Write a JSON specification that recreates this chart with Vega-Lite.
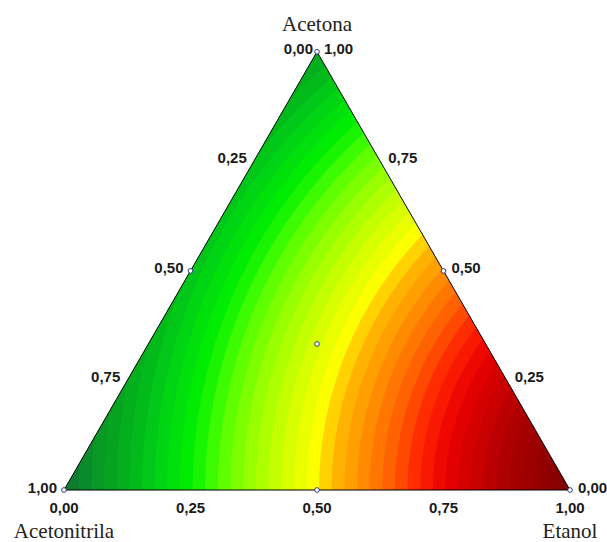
{
  "$schema": "https://vega.github.io/schema/vega-lite/v6.json",
  "width": 607,
  "height": 542,
  "padding": 0,
  "autosize": "none",
  "background": "white",
  "config": {"view": {"stroke": null}},
  "datasets": {
    "bands": [
      {"X":1.229,"Y":0,"r":1.25,"v":1.2375},{"X":1.229,"Y":0,"r":1.225,"v":1.2125},{"X":1.229,"Y":0,"r":1.2,"v":1.1875},{"X":1.229,"Y":0,"r":1.175,"v":1.1625},{"X":1.229,"Y":0,"r":1.15,"v":1.1375},
      {"X":1.229,"Y":0,"r":1.125,"v":1.1125},{"X":1.229,"Y":0,"r":1.1,"v":1.0875},{"X":1.229,"Y":0,"r":1.075,"v":1.0625},{"X":1.229,"Y":0,"r":1.05,"v":1.0375},{"X":1.229,"Y":0,"r":1.025,"v":1.0125},
      {"X":1.229,"Y":0,"r":1.0,"v":0.9875},{"X":1.229,"Y":0,"r":0.975,"v":0.9625},{"X":1.229,"Y":0,"r":0.95,"v":0.9375},{"X":1.229,"Y":0,"r":0.925,"v":0.9125},{"X":1.229,"Y":0,"r":0.9,"v":0.8875},
      {"X":1.229,"Y":0,"r":0.875,"v":0.8625},{"X":1.229,"Y":0,"r":0.85,"v":0.8375},{"X":1.229,"Y":0,"r":0.825,"v":0.8125},{"X":1.229,"Y":0,"r":0.8,"v":0.7875},{"X":1.229,"Y":0,"r":0.775,"v":0.7625},
      {"X":1.229,"Y":0,"r":0.75,"v":0.7375},{"X":1.229,"Y":0,"r":0.725,"v":0.7125},{"X":1.229,"Y":0,"r":0.7,"v":0.6875},{"X":1.229,"Y":0,"r":0.675,"v":0.6625},{"X":1.229,"Y":0,"r":0.65,"v":0.6375},
      {"X":1.229,"Y":0,"r":0.625,"v":0.6125},{"X":1.229,"Y":0,"r":0.6,"v":0.5875},{"X":1.229,"Y":0,"r":0.575,"v":0.5625},{"X":1.229,"Y":0,"r":0.55,"v":0.5375},{"X":1.229,"Y":0,"r":0.525,"v":0.5125},
      {"X":1.229,"Y":0,"r":0.5,"v":0.4875},{"X":1.229,"Y":0,"r":0.475,"v":0.4625},{"X":1.229,"Y":0,"r":0.45,"v":0.4375},{"X":1.229,"Y":0,"r":0.425,"v":0.4125},{"X":1.229,"Y":0,"r":0.4,"v":0.3875},
      {"X":1.229,"Y":0,"r":0.375,"v":0.3625},{"X":1.229,"Y":0,"r":0.35,"v":0.3375},{"X":1.229,"Y":0,"r":0.325,"v":0.3125},{"X":1.229,"Y":0,"r":0.3,"v":0.2875},{"X":1.229,"Y":0,"r":0.275,"v":0.2625},
      {"X":1.229,"Y":0,"r":0.25,"v":0.2375}
    ],
    "masks": [
      {"m":"L","Y":0,"X":-0.3,"X2":0},{"m":"L","Y":1.1,"X":-0.3,"X2":0.63509},
      {"m":"R","Y":0,"X":1,"X2":1.4},{"m":"R","Y":1.1,"X":0.36491,"X2":1.4},
      {"m":"B","Y":-0.3,"X":-0.3,"X2":1.4},{"m":"B","Y":0,"X":-0.3,"X2":1.4}
    ],
    "outline": [
      {"o":0,"X":0,"Y":0},{"o":1,"X":1,"Y":0},{"o":2,"X":0.5,"Y":0.866025},{"o":3,"X":0,"Y":0}
    ],
    "pts": [
      {"X":0,"Y":0},{"X":1,"Y":0},{"X":0.5,"Y":0.866025},{"X":0.5,"Y":0},
      {"X":0.25,"Y":0.433013},{"X":0.75,"Y":0.433013},{"X":0.5,"Y":0.288675}
    ],
    "leftLab": [
      {"X":0.375,"Y":0.649519,"t":"0,25"},{"X":0.25,"Y":0.433013,"t":"0,50"},{"X":0.125,"Y":0.216506,"t":"0,75"}
    ],
    "rightLab": [
      {"X":0.625,"Y":0.649519,"t":"0,75"},{"X":0.75,"Y":0.433013,"t":"0,50"},{"X":0.875,"Y":0.216506,"t":"0,25"}
    ],
    "bottomLab": [
      {"X":0,"Y":0,"t":"0,00"},{"X":0.25,"Y":0,"t":"0,25"},{"X":0.5,"Y":0,"t":"0,50"},{"X":0.75,"Y":0,"t":"0,75"},{"X":1,"Y":0,"t":"1,00"}
    ],
    "blLab": [{"X":0,"Y":0,"t":"1,00"}],
    "brLab": [{"X":1,"Y":0,"t":"0,00"}],
    "tlLab": [{"X":0.5,"Y":0.866025,"t":"0,00"}],
    "trLab": [{"X":0.5,"Y":0.866025,"t":"1,00"}],
    "topTitle": [{"X":0.5,"Y":0.866025,"t":"Acetona"}],
    "botTitle": [{"X":0,"Y":0,"t":"Acetonitrila"},{"X":1,"Y":0,"t":"Etanol"}]
  },
  "encoding": {
    "x": {"field":"X","type":"quantitative","axis":null,"scale":{"domain":[-0.126482,1.073123],"nice":false,"zero":false}},
    "y": {"field":"Y","type":"quantitative","axis":null,"scale":{"domain":[-0.102767,0.968379],"nice":false,"zero":false}}
  },
  "layer": [
    {
      "data": {"name":"bands"},
      "mark": {"type":"point","shape":"circle","filled":true,"opacity":1,"strokeWidth":0},
      "encoding": {
        "size": {"field":"r","type":"quantitative","legend":null,"scale":{"type":"pow","exponent":2,"domain":[0,1],"range":[0,1024144],"zero":true,"nice":false}},
        "color": {"field":"v","type":"quantitative","legend":null,
          "scale":{"type":"linear","clamp":true,"interpolate":"rgb",
            "domain":[0.23,0.368,0.474,0.526,0.585,0.644,0.704,0.733,0.802,0.862,0.921,0.98,1.04,1.099,1.158,1.217,1.25],
            "range":["#800000","#b00000","#e80000","#ff2000","#ff6000","#ff9000","#ffc000","#ffff00","#ccff00","#99ff00","#55ff00","#00f000","#00d415","#03b51c","#089a24","#0c7a30","#0e6a34"]}}
      }
    },
    {
      "data": {"name":"masks"},
      "mark": {"type":"area","orient":"horizontal","fill":"white","stroke":null},
      "encoding": {
        "x": {"field":"X","type":"quantitative","stack":null,"axis":null,"scale":{"domain":[-0.126482,1.073123],"nice":false,"zero":false}},
        "x2": {"field":"X2"},
        "detail": {"field":"m"}
      }
    },
    {
      "data": {"name":"outline"},
      "mark": {"type":"line","color":"black","strokeWidth":1},
      "encoding": {"order": {"field":"o","type":"quantitative"}}
    },
    {
      "data": {"name":"pts"},
      "mark": {"type":"point","shape":"circle","size":22,"filled":false,"fill":"white","fillOpacity":1,"stroke":"#2b3a80","strokeWidth":1,"opacity":1}
    },
    {
      "data": {"name":"leftLab"},
      "mark": {"type":"text","align":"right","baseline":"middle","dx":-7,"dy":-3,"font":"Liberation Sans","fontWeight":"bold","fontSize":15,"fill":"#1a1a1a"},
      "encoding": {"text": {"field":"t"}}
    },
    {
      "data": {"name":"rightLab"},
      "mark": {"type":"text","align":"left","baseline":"middle","dx":8,"dy":-3,"font":"Liberation Sans","fontWeight":"bold","fontSize":15,"fill":"#1a1a1a"},
      "encoding": {"text": {"field":"t"}}
    },
    {
      "data": {"name":"bottomLab"},
      "mark": {"type":"text","align":"center","baseline":"middle","dy":18,"font":"Liberation Sans","fontWeight":"bold","fontSize":15,"fill":"#1a1a1a"},
      "encoding": {"text": {"field":"t"}}
    },
    {
      "data": {"name":"blLab"},
      "mark": {"type":"text","align":"right","baseline":"middle","dx":-7,"dy":-2,"font":"Liberation Sans","fontWeight":"bold","fontSize":15,"fill":"#1a1a1a"},
      "encoding": {"text": {"field":"t"}}
    },
    {
      "data": {"name":"brLab"},
      "mark": {"type":"text","align":"left","baseline":"middle","dx":8,"dy":-2,"font":"Liberation Sans","fontWeight":"bold","fontSize":15,"fill":"#1a1a1a"},
      "encoding": {"text": {"field":"t"}}
    },
    {
      "data": {"name":"tlLab"},
      "mark": {"type":"text","align":"right","baseline":"middle","dx":-4,"dy":-3,"font":"Liberation Sans","fontWeight":"bold","fontSize":15,"fill":"#1a1a1a"},
      "encoding": {"text": {"field":"t"}}
    },
    {
      "data": {"name":"trLab"},
      "mark": {"type":"text","align":"left","baseline":"middle","dx":7,"dy":-3,"font":"Liberation Sans","fontWeight":"bold","fontSize":15,"fill":"#1a1a1a"},
      "encoding": {"text": {"field":"t"}}
    },
    {
      "data": {"name":"topTitle"},
      "mark": {"type":"text","align":"center","baseline":"alphabetic","dy":-21,"font":"Liberation Serif","fontSize":21,"fill":"#222222"},
      "encoding": {"text": {"field":"t"}}
    },
    {
      "data": {"name":"botTitle"},
      "mark": {"type":"text","align":"center","baseline":"alphabetic","dy":48,"font":"Liberation Serif","fontSize":21,"fill":"#222222"},
      "encoding": {"text": {"field":"t"}}
    }
  ]
}
